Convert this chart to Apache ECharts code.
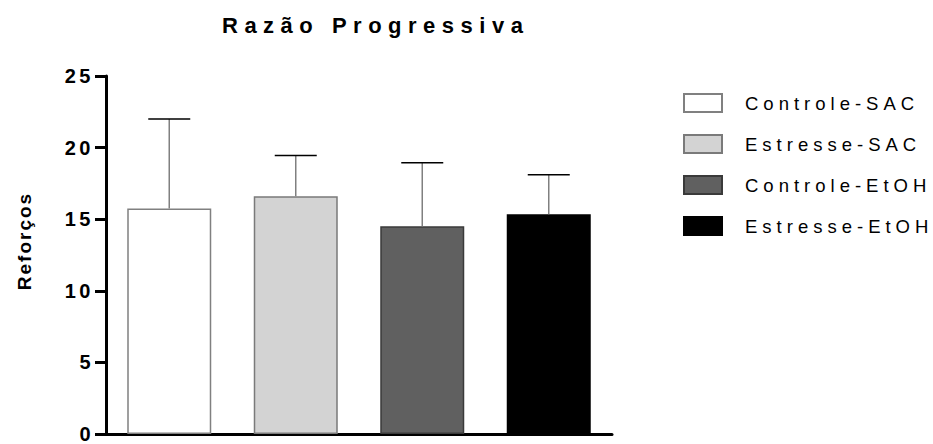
<!DOCTYPE html>
<html>
<head>
<meta charset="utf-8">
<script src="https://cdn.jsdelivr.net/npm/echarts@6/dist/echarts.min.js"></script>
<style>
html, body { margin: 0; background: #fff; }
#chart { width: 933px; height: 444px; }
/* letter spacing of the original figure */
#chart text[style*="22px"] { letter-spacing: 6.5px; }
#chart text[style*="20px"] { letter-spacing: 3.5px; }
#chart text[style*="19px"] { letter-spacing: 2px; }
#chart text[style*="18.5px"] { letter-spacing: 5px; }
</style>
</head>
<body>
<div id="chart"></div>
<script>
var categories = ['Controle-SAC', 'Estresse-SAC', 'Controle-EtOH', 'Estresse-EtOH'];
var means = [15.75, 16.6, 14.5, 15.35];
var sds = [6.25, 2.85, 4.45, 2.75];
var yTicks = [0, 5, 10, 15, 20, 25];

var fills = ['#ffffff', '#d3d3d3', '#606060', '#000000'];
var borders = ['#808080', '#7a7a7a', '#3a3a3a', '#000000'];

var myChart = echarts.init(document.getElementById('chart'), null, { renderer: 'svg' });

var series = categories.map(function (name, i) {
    return {
        name: name,
        type: 'bar',
        barWidth: 84,
        barGap: '-100%',
        data: categories.map(function (c, j) { return j === i ? means[i] : '-'; }),
        itemStyle: { color: fills[i], borderColor: borders[i], borderWidth: 1.5 }
    };
});

series.push({
    name: 'sd',
    type: 'custom',
    data: means.map(function (m, i) { return [i, m, m + sds[i]]; }),
    renderItem: function (params, api) {
        var lo = api.coord([api.value(0), api.value(1)]);
        var hi = api.coord([api.value(0), api.value(2)]);
        return {
            type: 'group',
            children: [
                { type: 'line', shape: { x1: lo[0], y1: lo[1], x2: hi[0], y2: hi[1] },
                  style: { stroke: '#808080', lineWidth: 1.5 } },
                { type: 'line', shape: { x1: hi[0] - 21, y1: hi[1], x2: hi[0] + 21, y2: hi[1] },
                  style: { stroke: '#000', lineWidth: 1.5 } }
            ]
        };
    },
    z: 3
});

var option = {
    animation: false,
    title: {
        text: 'Razão Progressiva',
        left: 222,
        top: 14,
        padding: 0,
        textStyle: { fontFamily: 'Arial', fontSize: 22, fontWeight: 'bold', color: '#000' }
    },
    legend: {
        data: categories,
        orient: 'vertical',
        left: 683,
        top: 93,
        padding: 0,
        icon: 'rect',
        itemWidth: 38,
        itemHeight: 18,
        itemGap: 21,
        textStyle: { fontFamily: 'Arial', fontSize: 18.5, color: '#000', padding: [0, 0, 0, 18] }
    },
    grid: { left: 106, right: 321, top: 76, bottom: 7 },
    xAxis: {
        type: 'category',
        data: categories,
        axisLabel: { show: false },
        axisTick: { show: false },
        axisLine: { lineStyle: { color: '#000', width: 3 } }
    },
    yAxis: {
        type: 'value',
        min: yTicks[0],
        max: yTicks[yTicks.length - 1],
        interval: 5,
        name: 'Reforços',
        nameLocation: 'middle',
        nameRotate: 90,
        nameGap: 72,
        nameTextStyle: { fontFamily: 'Arial', fontSize: 19, fontWeight: 'bold', color: '#000', padding: [0, 0, 0, 28] },
        axisLine: { show: true, lineStyle: { color: '#000', width: 3 } },
        axisTick: { show: true, length: 11, lineStyle: { color: '#000', width: 3 } },
        axisLabel: { fontFamily: 'Arial', fontSize: 20, fontWeight: 'bold', color: '#000', margin: 12 },
        splitLine: { show: false }
    },
    series: series
};
myChart.setOption(option);
</script>
</body>
</html>
